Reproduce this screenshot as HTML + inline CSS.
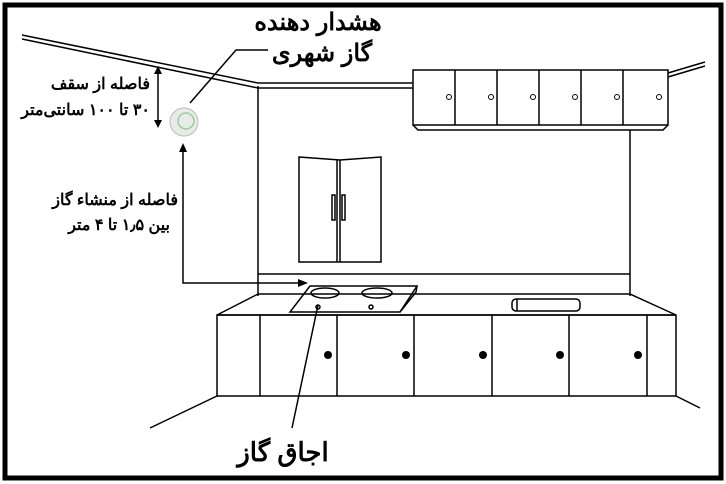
<!DOCTYPE html>
<html><head><meta charset="utf-8"><style>
html,body{margin:0;padding:0;background:#fff;}
svg{display:block}
text{font-family:"Liberation Sans","Noto Sans CJK SC",sans-serif;font-weight:bold;fill:#000}
</style></head><body>
<svg width="726" height="484" viewBox="0 0 726 484" xmlns="http://www.w3.org/2000/svg">
<rect x="0" y="0" width="726" height="484" fill="#fff"/>
<rect x="5" y="5" width="716" height="473" fill="none" stroke="#000" stroke-width="5"/>
<g stroke="#000" stroke-width="1.5" fill="none">
<path d="M22 35 L258 83 M22 39 L258 88"/>
<path d="M258 83 L413 83 M258 88 L413 88"/>
<path d="M668 73 L705 62 M668 77 L705 66"/>
<path d="M258 86 L258 296"/>
<path d="M630 130 L630 296"/>
<path d="M258 274 L630 274"/>
<path d="M258 294 L630 294"/>
<rect x="413" y="70" width="255" height="55"/>
<path d="M413 125 L418 130 L663 130 L668 125"/>
<path d="M455 70V125 M497 70V125 M539 70V125 M581 70V125 M623 70V125"/>
<path d="M299 157 L340 160 L381 157 L381 262 L299 262 Z"/>
<path d="M340 160 V262 M337 160 V262"/>
<rect x="332" y="195" width="3" height="25"/>
<rect x="342" y="195" width="3" height="25"/>
<path d="M258 294 L217 315 L676 315 L630 294"/>
<rect x="217" y="315" width="459" height="81"/>
<path d="M260 315V396 M337 315V396 M414 315V396 M492 315V396 M569 315V396 M647 315V396"/>
<path d="M217 396 L150 428 M676 396 L700 408"/>
<path d="M310 286 L417 286 L400 312 L290 312 Z"/>
<path d="M417 286 L416 292 L400 312"/>
<ellipse cx="325" cy="293" rx="14" ry="5"/>
<ellipse cx="377" cy="293" rx="15" ry="5"/>
<circle cx="318" cy="307" r="2"/>
<circle cx="371" cy="307" r="2"/>
<rect x="512" y="299" width="68" height="12" rx="4"/>
<path d="M517 299 V311"/>
<path d="M183 150 V283 H302"/>
<path d="M158 70 V124"/>
<path d="M190 103 L236 50 L268 50"/>
<path d="M318 305 L292 428"/>
</g>
<g fill="#000">
<path d="M308 283 L298 279 L298 287 Z"/>
<path d="M183 143 L179 152 L187 152 Z"/>
<path d="M158 66 L154 74 L162 74 Z"/>
<path d="M158 128 L154 120 L162 120 Z"/>
<circle cx="328" cy="355" r="4"/><circle cx="406" cy="355" r="4"/><circle cx="483" cy="355" r="4"/><circle cx="560" cy="355" r="4"/><circle cx="638" cy="355" r="4"/>
<circle cx="449" cy="97" r="2.5" fill="none" stroke="#000"/><circle cx="491" cy="97" r="2.5" fill="none" stroke="#000"/><circle cx="533" cy="97" r="2.5" fill="none" stroke="#000"/><circle cx="575" cy="97" r="2.5" fill="none" stroke="#000"/><circle cx="617" cy="97" r="2.5" fill="none" stroke="#000"/><circle cx="659" cy="97" r="2.5" fill="none" stroke="#000"/>
</g>
<circle cx="184" cy="122" r="14" fill="#e8ece8" stroke="#bbb"/>
<circle cx="186" cy="121" r="8" fill="none" stroke="#9c9" stroke-width="1.5"/>
<text x="318" y="30" font-size="24" text-anchor="middle" direction="rtl">هشدار دهنده</text>
<text x="322" y="61" font-size="24" text-anchor="middle" direction="rtl">گاز شهری</text>
<text x="150" y="89" font-size="16" text-anchor="start" direction="rtl" unicode-bidi="embed">فاصله از سقف</text>
<text x="150" y="115" font-size="16" text-anchor="start" direction="rtl" unicode-bidi="embed">۳۰ تا ۱۰۰ سانتی‌متر</text>
<text x="178" y="205" font-size="16" text-anchor="start" direction="rtl" unicode-bidi="embed">فاصله از منشاء گاز</text>
<text x="170" y="230" font-size="16" text-anchor="start" direction="rtl" unicode-bidi="embed">بین ۱٫۵ تا ۴ متر</text>
<text x="283" y="461" font-size="26" text-anchor="middle" direction="rtl">اجاق گاز</text>
</svg>
</body></html>
